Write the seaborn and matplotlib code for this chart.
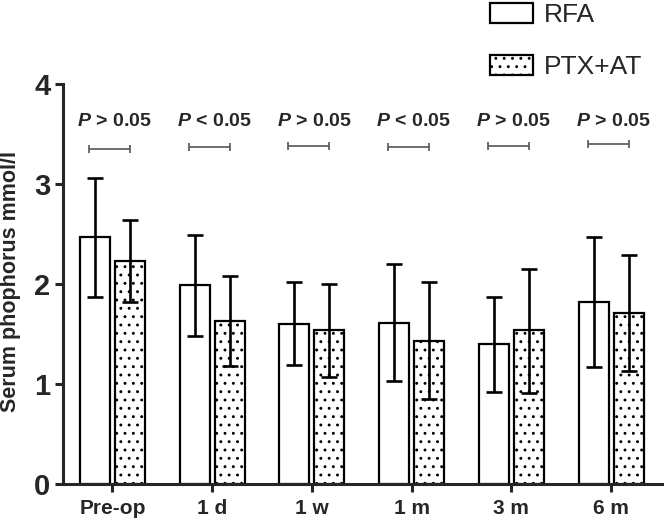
import matplotlib
matplotlib.use("Agg")
import pandas as pd
import matplotlib.pyplot as plt
import seaborn as sns
from matplotlib.patches import Patch

# values
timepoints = ["Pre-op", "1 d", "1 w", "1 m", "3 m", "6 m"]
groups = ["RFA", "PTX+AT"]
rfa_mean = [2.47, 1.99, 1.60, 1.61, 1.40, 1.82]
rfa_upper = [3.06, 2.49, 2.02, 2.20, 1.87, 2.47]
rfa_lower = [1.87, 1.48, 1.19, 1.03, 0.92, 1.17]
ptx_mean = [2.23, 1.63, 1.54, 1.43, 1.54, 1.71]
ptx_upper = [2.64, 2.08, 2.00, 2.02, 2.15, 2.29]
ptx_lower = [1.82, 1.18, 1.07, 0.85, 0.91, 1.13]
p_signs = [">", "<", ">", "<", ">", ">"]
bracket_y = [3.35, 3.37, 3.38, 3.37, 3.38, 3.40]

sns.set_style("ticks")
plt.rcParams["font.family"] = ["Liberation Sans", "DejaVu Sans"]
plt.rcParams["mathtext.fontset"] = "custom"
plt.rcParams["mathtext.it"] = "Liberation Sans:italic:bold"
plt.rcParams["hatch.linewidth"] = 0.9

df = pd.DataFrame({
    "time": timepoints * 2,
    "group": [groups[0]] * len(timepoints) + [groups[1]] * len(timepoints),
    "value": rfa_mean + ptx_mean,
})

fig = plt.figure(figsize=(6.64, 5.26), dpi=100)
ax = fig.add_axes([63 / 664, 1 - 484 / 526, 1 - 63 / 664, 400 / 526])

sns.barplot(
    data=df, x="time", y="value", hue="group", order=timepoints,
    hue_order=groups, palette=["white", "white"], edgecolor="black",
    linewidth=1.6, width=0.7, gap=0.14, errorbar=None, legend=False, ax=ax,
)

for bar in ax.containers[1]:
    bar.set_hatch("..")

for cont, mean, upper, lower in zip(
    ax.containers, [rfa_mean, ptx_mean], [rfa_upper, ptx_upper], [rfa_lower, ptx_lower]
):
    xs = [b.get_x() + b.get_width() / 2 for b in cont]
    ax.errorbar(
        xs, mean,
        yerr=[[m - lo for m, lo in zip(mean, lower)], [u - m for u, m in zip(upper, mean)]],
        fmt="none", ecolor="black", elinewidth=1.9, capsize=5.5, capthick=1.9, zorder=3,
    )

# significance brackets and labels
for i, (sign, yb) in enumerate(zip(p_signs, bracket_y)):
    ax.errorbar(
        i - 0.03, yb, xerr=0.205, fmt="none", ecolor="#555555",
        elinewidth=1.2, capsize=3, capthick=1.2,
    )
    ax.text(i + 0.02, 3.63, f"$P$ {sign} 0.05", ha="center", va="center",
            fontsize=14, fontweight="bold")

ax.set_xlim(-0.495, 5.53)
ax.set_ylim(0, 4)
ax.set_yticks([0, 1, 2, 3, 4])
ax.set_xlabel("")
ax.set_ylabel("Serum phophorus mmol/l", fontsize=15.5, fontweight="bold")
ax.yaxis.set_label_coords(-0.07, 0.507)
ax.tick_params(axis="y", labelsize=21, width=2.2, length=6, pad=3)
ax.tick_params(axis="x", labelsize=15, width=2.2, length=6, pad=5)
for lab in ax.get_xticklabels() + ax.get_yticklabels():
    lab.set_fontweight("bold")
sns.despine(ax=ax)
for side in ["left", "bottom"]:
    ax.spines[side].set_linewidth(2.2)

handles = [
    Patch(facecolor="white", edgecolor="black", linewidth=1.6, label=groups[0]),
    Patch(facecolor="white", edgecolor="black", linewidth=1.6, hatch="..", label=groups[1]),
]
fig.legend(
    handles=handles, loc="upper left", bbox_to_anchor=(487 / 664, 1.0),
    frameon=False, fontsize=19, handlelength=1.65, handleheight=0.8,
    handletextpad=0.4, labelspacing=1.05, borderpad=0.1, borderaxespad=0,
)

fig.savefig("out.png", dpi=100)
